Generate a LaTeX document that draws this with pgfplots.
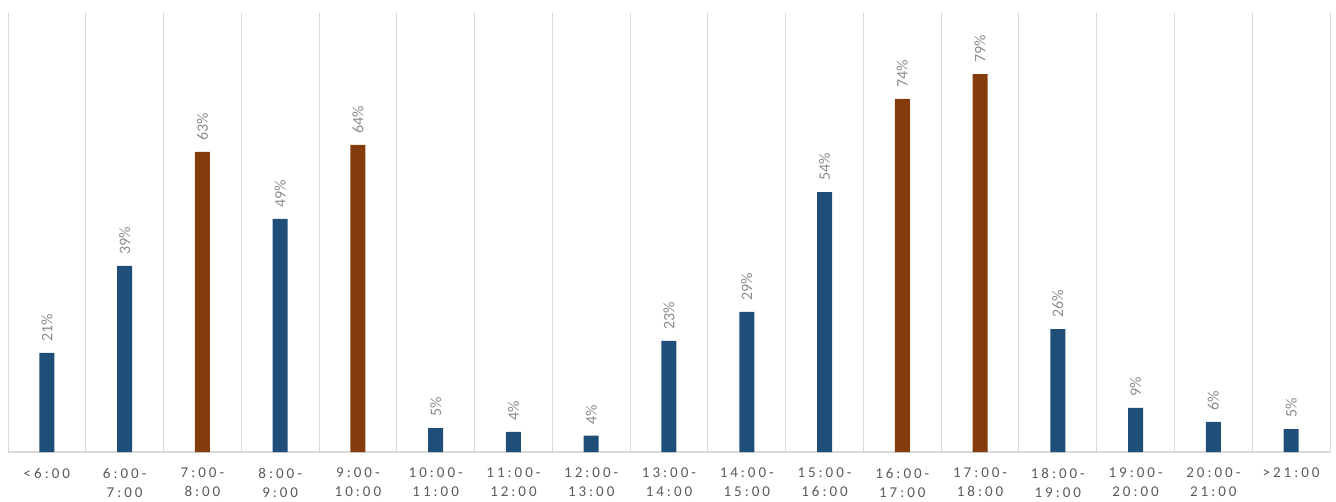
\documentclass[border=0pt]{standalone}
\usepackage{pgfplots}
\pgfplotsset{compat=1.18}
\usepackage{fontspec}
\setmainfont{Carlito}
\definecolor{barblue}{HTML}{1F4E79}
\definecolor{barbrown}{HTML}{843C0C}
\definecolor{gridgray}{HTML}{D9D9D9}
\definecolor{ticktext}{HTML}{595959}
\definecolor{labeltext}{HTML}{8C8C8C}
\begin{document}
\begin{tikzpicture}
\useasboundingbox (-8pt,-49pt) rectangle (1328pt,452pt);
\begin{axis}[
  at={(0pt,0pt)}, anchor=south west,
  scale only axis, width=1322pt, height=439pt,
  xmin=-0.5, xmax=16.5, ymin=0, ymax=91.75,
  axis line style={draw=none},
  ytick=\empty,
  extra y ticks={0}, extra y tick labels={},
  extra y tick style={grid=major, major grid style={gridgray, line width=1.2pt}, major tick length=0pt},
  xtick={0,...,16},
  xticklabels={{<6:00},{6:00-\\7:00},{7:00-\\8:00},{8:00-\\9:00},{9:00-\\10:00},{10:00-\\11:00},{11:00-\\12:00},{12:00-\\13:00},{13:00-\\14:00},{14:00-\\15:00},{15:00-\\16:00},{16:00-\\17:00},{17:00-\\18:00},{18:00-\\19:00},{19:00-\\20:00},{20:00-\\21:00},{>21:00}},
  minor xtick={-0.5,0.5,...,16.5},
  xminorgrids=true,
  minor grid style={gridgray, line width=0.9pt},
  major tick length=0pt, minor tick length=0pt,
  xticklabel style={align=center, anchor=north, inner sep=0pt, yshift=-16pt, text=ticktext,
    font=\fontsize{15}{19}\selectfont\addfontfeatures{LetterSpace=20}},
  point meta=explicit symbolic,
  nodes near coords={\pgfplotspointmeta\%},
  nodes near coords style={rotate=90, anchor=west, inner xsep=11pt, inner ysep=0pt,
    text=labeltext, font=\fontsize{16}{18}\selectfont},
  clip=false,
]
\addplot[ybar, bar width=15pt, bar shift=0pt, fill=barblue, draw=none] coordinates {
  (0,20.7) [21]
  (1,38.9) [39]
  (3,48.7) [49]
  (5,5.0) [5]
  (6,4.2) [4]
  (7,3.4) [4]
  (8,23.2) [23]
  (9,29.3) [29]
  (10,54.3) [54]
  (13,25.7) [26]
  (14,9.2) [9]
  (15,6.3) [6]
  (16,4.8) [5]
};
\addplot[ybar, bar width=15pt, bar shift=0pt, fill=barbrown, draw=none] coordinates {
  (2,62.7) [63]
  (4,64.2) [64]
  (11,73.8) [74]
  (12,79.0) [79]
};
\end{axis}
\end{tikzpicture}
\end{document}
